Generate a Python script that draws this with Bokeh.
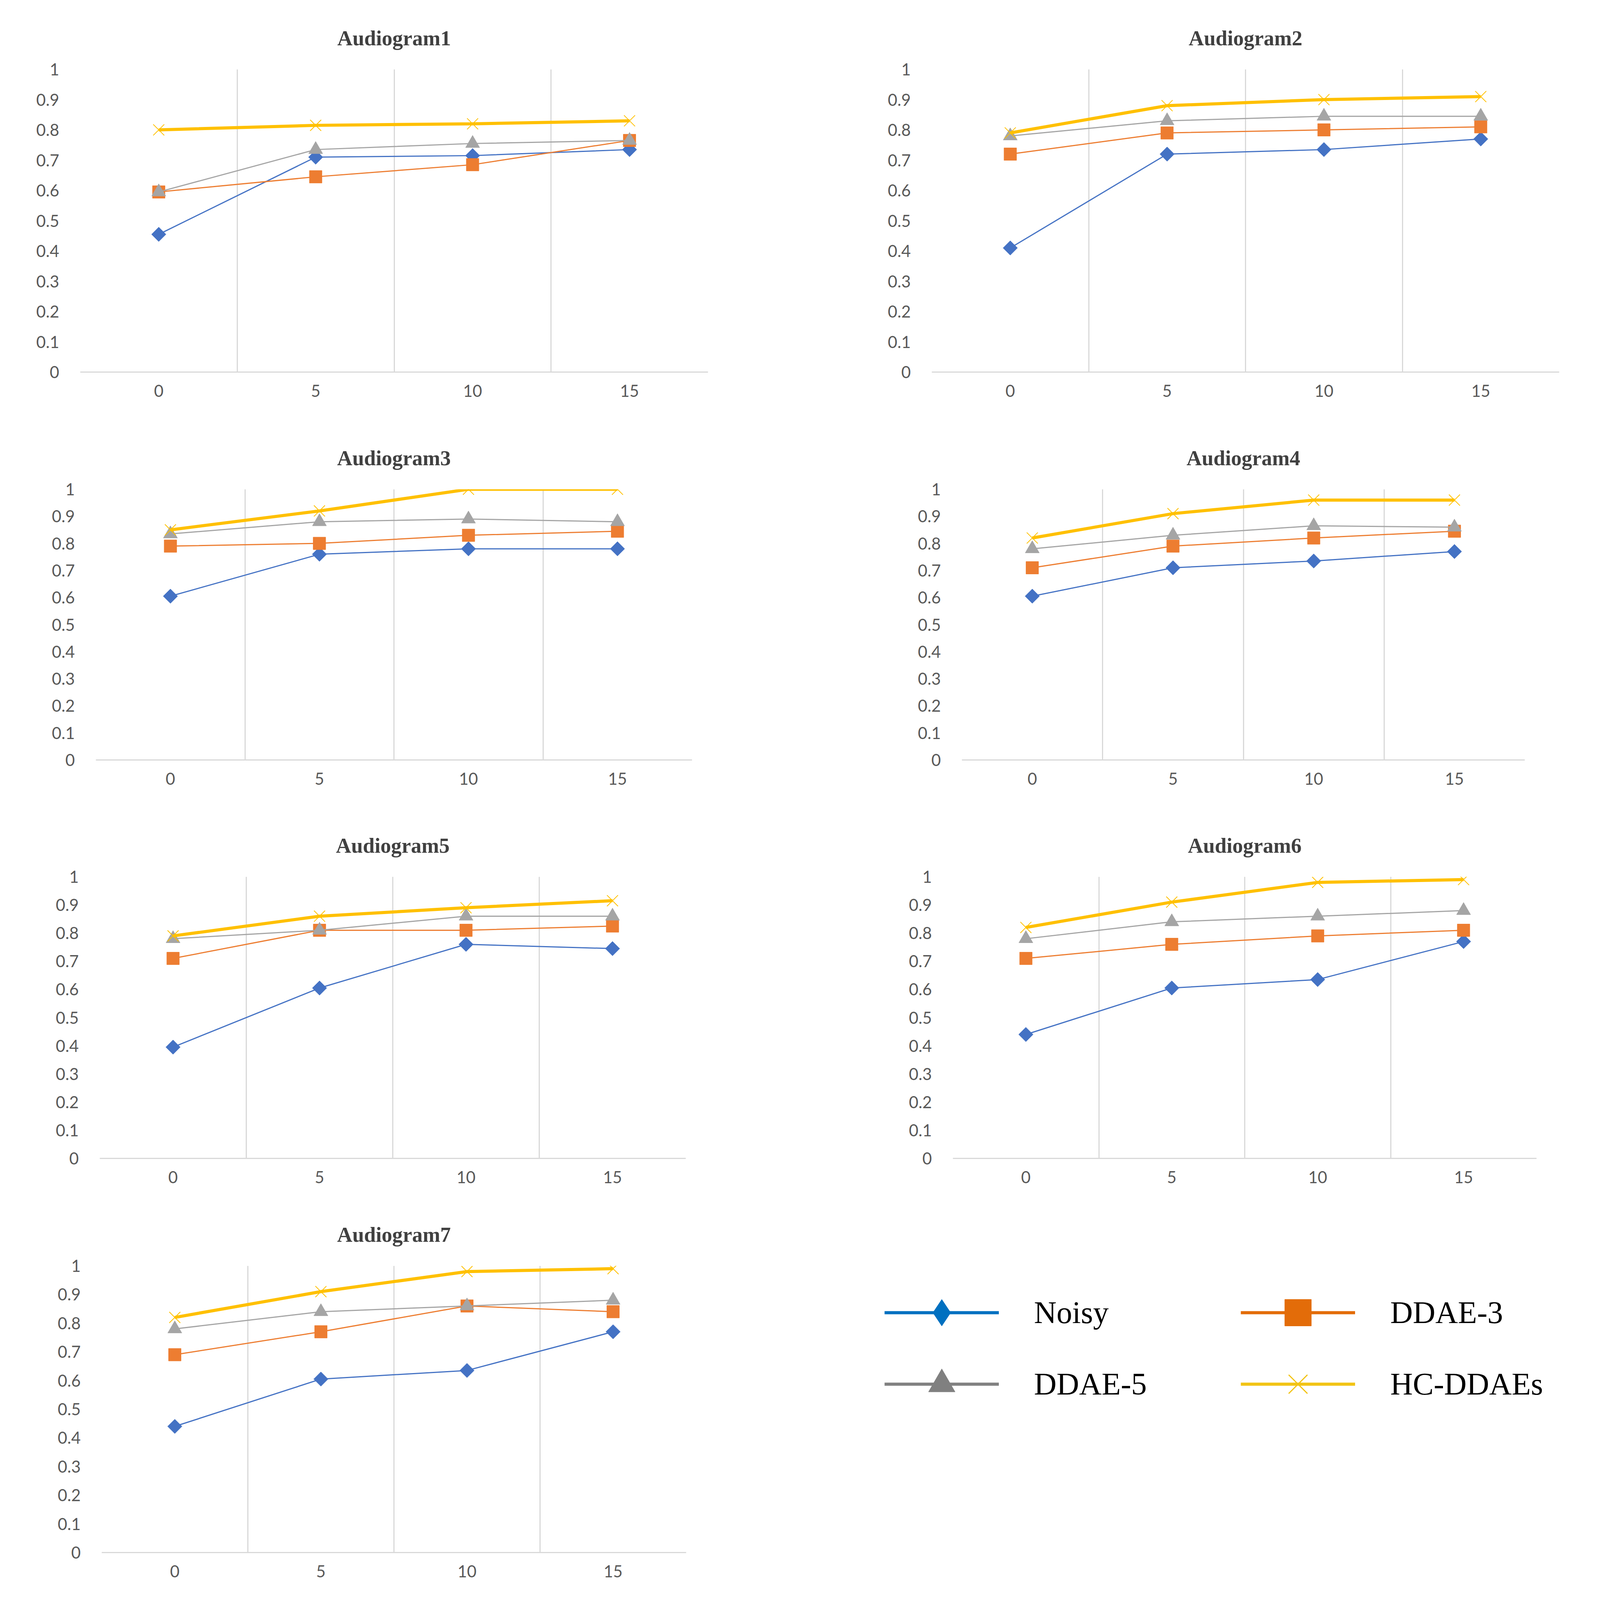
import math
from bokeh.plotting import figure
from bokeh.layouts import column, row
from bokeh.models import FixedTicker, Range1d, Legend, LegendItem
from bokeh.embed import file_html
from bokeh.resources import INLINE

# SNR (dB) on the x axis
snr = [0, 5, 10, 15]
titles = ["Audiogram1", "Audiogram2", "Audiogram3", "Audiogram4",
          "Audiogram5", "Audiogram6", "Audiogram7"]

# one row per audiogram, values at 0/5/10/15 dB
noisy = [
    [0.455, 0.71, 0.715, 0.735],
    [0.41, 0.72, 0.735, 0.77],
    [0.605, 0.76, 0.78, 0.78],
    [0.605, 0.71, 0.735, 0.77],
    [0.395, 0.605, 0.76, 0.745],
    [0.44, 0.605, 0.635, 0.77],
    [0.44, 0.605, 0.635, 0.77],
]
ddae3 = [
    [0.595, 0.645, 0.685, 0.765],
    [0.72, 0.79, 0.80, 0.81],
    [0.79, 0.80, 0.83, 0.845],
    [0.71, 0.79, 0.82, 0.845],
    [0.71, 0.81, 0.81, 0.825],
    [0.71, 0.76, 0.79, 0.81],
    [0.69, 0.77, 0.86, 0.84],
]
ddae5 = [
    [0.595, 0.735, 0.755, 0.765],
    [0.78, 0.83, 0.845, 0.845],
    [0.835, 0.88, 0.89, 0.88],
    [0.78, 0.83, 0.865, 0.86],
    [0.78, 0.81, 0.86, 0.86],
    [0.78, 0.84, 0.86, 0.88],
    [0.78, 0.84, 0.86, 0.88],
]
hc = [
    [0.80, 0.815, 0.82, 0.83],
    [0.79, 0.88, 0.90, 0.91],
    [0.85, 0.92, 1.0, 1.0],
    [0.82, 0.91, 0.96, 0.96],
    [0.79, 0.86, 0.89, 0.915],
    [0.82, 0.91, 0.98, 0.99],
    [0.82, 0.91, 0.98, 0.99],
]

y_ticks = [0, 0.1, 0.2, 0.3, 0.4, 0.5, 0.6, 0.7, 0.8, 0.9, 1.0]
y_labels = ["0", "0.1", "0.2", "0.3", "0.4", "0.5", "0.6", "0.7", "0.8", "0.9", "1"]
grid_at = [-2.5, 2.5, 7.5, 12.5, 17.5]

# series: name, data, colour, marker, line width, marker size, marker angle
series = [
    ("Noisy", noisy, "#4472C4", "square", 3, 26, math.pi / 4),
    ("DDAE-3", ddae3, "#ED7D31", "square", 3, 32, 0),
    ("DDAE-5", ddae5, "#A5A5A5", "triangle", 3, 36, 0),
    ("HC-DDAEs", hc, "#FFC000", "x", 8, 40, 0),
]

# the photographed page is shorter than asked, so heights are squeezed
f = 0.845

# figure width, height, borders left/right/top/bottom (unsqueezed)
boxes = [
    (2050, 1272, 205, 238, 208, 144),
    (2045, 1272, 335, 104, 210, 146),
    (2050, 1180, 245, 279, 186, 123),
    (2045, 1180, 412, 192, 209, 150),
    (2050, 1190, 255, 295, 204, 133),
    (2045, 1190, 389, 162, 204, 134),
    (2050, 1200, 260, 294, 191, 140),
]

tick_font = "Lato"
tick_col = "#595959"


def panel(k):
    w, h, bl, br, bt, bb = boxes[k]
    h, bt, bb = round(h * f), round(bt * f), round(bb * f)
    p = figure(width=w, height=h, title=titles[k],
               x_range=Range1d(-2.5, 17.5), y_range=Range1d(0, 1),
               output_backend="svg", toolbar_location=None,
               min_border_left=bl, min_border_right=br,
               min_border_top=bt, min_border_bottom=bb)
    p.outline_line_color = None
    p.background_fill_color = "white"
    p.border_fill_color = "white"

    p.title.align = "center"
    p.title.text_font = "Liberation Serif"
    p.title.text_font_style = "bold"
    p.title.text_font_size = "54px"
    p.title.text_color = "#404040"
    p.title.standoff = 100

    p.xaxis.ticker = FixedTicker(ticks=snr)
    p.xaxis.axis_line_color = "#D9D9D9"
    p.xaxis.axis_line_width = 3
    p.xaxis.major_tick_line_color = None
    p.xaxis.minor_tick_line_color = None
    p.xaxis.major_label_standoff = 26

    p.yaxis.ticker = FixedTicker(ticks=y_ticks)
    p.yaxis.major_label_overrides = dict(zip(y_ticks, y_labels))
    p.yaxis.axis_line_color = None
    p.yaxis.major_tick_line_color = None
    p.yaxis.minor_tick_line_color = None
    p.yaxis.major_label_standoff = 48

    for ax in (p.xaxis, p.yaxis):
        ax.major_label_text_font = tick_font
        ax.major_label_text_font_size = "42px"
        ax.major_label_text_color = tick_col

    p.ygrid.visible = False
    p.xgrid.ticker = FixedTicker(ticks=grid_at)
    p.xgrid.grid_line_color = "#D9D9D9"
    p.xgrid.grid_line_width = 3

    for name, data, col, mk, lw, ms, ang in series:
        p.line(snr, data[k], line_color=col, line_width=lw)
        if mk == "x":
            p.scatter(snr, data[k], marker=mk, size=ms, line_color=col, line_width=2)
        else:
            p.scatter(snr, data[k], marker=mk, size=ms, angle=ang,
                      fill_color=col, line_color=col)
    return p


figs = [panel(k) for k in range(7)]

# legend panel, bottom right; its ranges keep the series off screen,
# only the legend samples show
leg_h = round(1200 * f)
leg = figure(width=2045, height=leg_h, output_backend="svg", toolbar_location=None,
             x_range=Range1d(100, 101), y_range=Range1d(100, 101),
             x_axis_location=None, y_axis_location=None, min_border=0)
leg.outline_line_color = None
leg.grid.visible = False

leg_style = [
    ("#0070C0", "diamond"),
    ("#E36C09", "square"),
    ("#808080", "triangle"),
    ("#F2C314", "x"),
]
items = []
for (name, data, _c, _m, _w, _s, _a), (col, mk) in zip(series, leg_style):
    r1 = leg.line(snr, data[0], line_color=col, line_width=8)
    if mk == "x":
        r2 = leg.scatter(snr, data[0], marker=mk, line_color=col, line_width=3)
    else:
        r2 = leg.scatter(snr, data[0], marker=mk, fill_color=col, line_color=col)
    items.append(LegendItem(label=name, renderers=[r1, r2]))

gh = 170
gap = round(216 * f) - gh
leg_top = round(473 * f) - gh // 2
leg_bottom = leg_h - (leg_top + 2 * gh + gap)
legend = Legend(items=items, location=(214, leg_bottom),
                orientation="horizontal", ncols=2,
                glyph_width=293, glyph_height=gh, label_standoff=90,
                label_width=516, spacing=gap, padding=0, margin=0,
                label_text_font="Liberation Serif", label_text_font_size="80px",
                label_text_color="black", border_line_color=None,
                background_fill_alpha=0)
leg.add_layout(legend)

layout = column(
    row(figs[0], figs[1]),
    row(figs[2], figs[3]),
    row(figs[4], figs[5]),
    row(figs[6], leg),
)

open("out.html", "w").write(file_html(layout, INLINE))
